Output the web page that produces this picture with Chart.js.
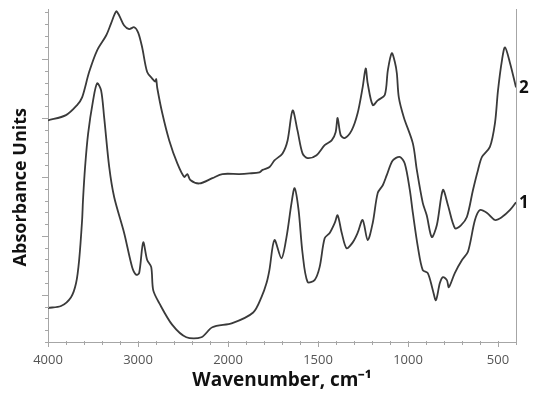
<!DOCTYPE html>
<html>
<head>
<meta charset="utf-8">
<title>IR spectra</title>
<script src="https://cdn.jsdelivr.net/npm/chart.js@4"></script>
<style>
  html, body { margin: 0; padding: 0; background: #fff; }
  canvas { display: block; }
</style>
</head>
<body>
<canvas id="irChart" width="550" height="399"></canvas>
<script>
// spectrum 1 (lower curve)
const wavenumbers1 = [4000, 3855, 3744, 3688, 3654, 3621, 3611, 3588, 3554, 3499, 3454, 3410, 3376, 3320, 3265,
  3154, 3065, 3020, 2987, 2942, 2898, 2853, 2831, 2764, 2619, 2463, 2296, 2174, 1976, 1860, 1814, 1786, 1770,
  1742, 1703, 1675, 1647, 1630, 1608, 1586, 1558, 1519, 1491, 1463, 1435, 1407, 1391, 1368, 1341, 1307, 1280,
  1252, 1224, 1196, 1168, 1140, 1118, 1085, 1046, 1018, 990, 973, 945, 918, 890, 862, 845, 823, 806, 784, 773,
  740, 700, 667, 628, 600, 561, 517, 478, 433, 400];
const absorbance1 = [-0.22, -0.19, -0.04, 0.20, 0.59, 1.27, 1.61, 2.17, 2.74, 3.30, 3.59, 3.47, 3.01, 2.17, 1.66,
  1.05, 0.47, 0.34, 0.37, 0.89, 0.59, 0.47, 0.08, -0.14, -0.51, -0.72, -0.72, -0.55, -0.48, -0.30, -0.04, 0.20, 0.42,
  0.93, 0.62, 0.98, 1.56, 1.81, 1.44, 0.71, 0.22, 0.25, 0.47, 0.96, 1.05, 1.22, 1.35, 1.05, 0.79, 0.89, 1.05,
  1.27, 0.93, 1.22, 1.73, 1.86, 2.03, 2.28, 2.34, 2.23, 1.78, 1.39, 0.81, 0.42, 0.37, 0.08, -0.09, 0.20, 0.30, 0.25, 0.13,
  0.37, 0.59, 0.73, 1.27, 1.44, 1.39, 1.27, 1.32, 1.44, 1.57];

// spectrum 2 (upper curve)
const wavenumbers2 = [4000, 3800, 3677, 3621, 3543, 3454, 3354, 3298, 3242, 3209, 3154, 3098, 3042, 2998, 2954,
  2898, 2842, 2809, 2798, 2786, 2730, 2653, 2563, 2486, 2452, 2419, 2318, 2174, 2062, 1937, 1881, 1825, 1808,
  1769, 1742, 1697, 1669, 1641, 1614, 1586, 1558, 1508, 1463, 1424, 1402, 1391, 1374, 1352, 1313, 1280, 1252,
  1235, 1224, 1196, 1168, 1129, 1112, 1090, 1073, 1062, 1051, 1023, 973, 951, 918, 896, 868, 840, 806, 778, 739,
  706, 673, 639, 611, 589, 545, 517, 500, 478, 461, 433, 400];
const absorbance2 = [2.96, 3.05, 3.22, 3.35, 3.78, 4.15, 4.40, 4.61, 4.81, 4.74, 4.57, 4.51, 4.54, 4.45, 4.20,
  3.78, 3.67, 3.62, 3.66, 3.51, 3.08, 2.62, 2.23, 2.00, 2.05, 1.95, 1.89, 1.98, 2.05, 2.05, 2.06, 2.08, 2.12,
  2.17, 2.28, 2.40, 2.62, 3.13, 2.79, 2.40, 2.32, 2.37, 2.54, 2.62, 2.76, 3.00, 2.71, 2.66, 2.79, 3.08, 3.52,
  3.84, 3.59, 3.22, 3.30, 3.39, 3.81, 4.10, 3.95, 3.76, 3.35, 3.01, 2.57, 2.12, 1.56, 1.35, 0.98, 1.18, 1.78, 1.52, 1.13,
  1.18, 1.32, 1.78, 2.12, 2.34, 2.51, 2.91, 3.47, 3.98, 4.20, 3.93, 3.52];

const seriesLabels = ["1", "2"];
const tickWavenumbers = [4000, 3000, 2000, 1500, 1000, 500];

// the axis changes scale at 2000 cm-1: above it 1000 cm-1 gets the width of 500 below
const toAxis = (w) => (w > 2000 ? 2000 + (w - 2000) / 2 : w);
const fromAxis = (u) => (u > 2000 ? 2000 + (u - 2000) * 2 : u);

const AXIS_COLOR = "#a6a6a6";
const LINE_COLOR = "#3a3a3a";

const toPoints = (ws, ys) => ws.map((w, i) => ({ x: toAxis(w), y: ys[i] }));

// tick marks cross the axis line, majors are longer
const axisMarks = {
  id: "axisMarks",
  afterDraw(chart) {
    const { ctx, chartArea, scales } = chart;
    const x = scales.x;
    const y = scales.y;
    ctx.save();
    ctx.strokeStyle = AXIS_COLOR;
    ctx.lineWidth = 1;
    ctx.beginPath();
    // right frame line
    ctx.moveTo(chartArea.right + 0.5, chartArea.top);
    ctx.lineTo(chartArea.right + 0.5, chartArea.bottom);
    x.ticks.forEach((t) => {
      const px = Math.round(x.getPixelForValue(t.value)) + 0.5;
      const major = t.value % 500 === 0;
      ctx.moveTo(px, chartArea.bottom - 1);
      ctx.lineTo(px, chartArea.bottom + (major ? 5 : 3));
    });
    y.ticks.forEach((t) => {
      const py = Math.round(y.getPixelForValue(t.value)) + 0.5;
      const major = Math.abs(t.value - Math.round(t.value)) < 1e-6;
      ctx.moveTo(chartArea.left + 1, py);
      ctx.lineTo(chartArea.left - (major ? 6 : 3), py);
    });
    ctx.stroke();

    // curve numbers at the right end of each spectrum
    ctx.fillStyle = "#111";
    ctx.font = "bold 17px 'Open Sans', sans-serif";
    ctx.textBaseline = "middle";
    ctx.textAlign = "left";
    chart.data.datasets.forEach((ds) => {
      const last = ds.data[ds.data.length - 1];
      ctx.fillText(ds.label, chartArea.right + 3, y.getPixelForValue(last.y) + 1);
    });
    ctx.restore();
  }
};

const ctx = document.getElementById("irChart").getContext("2d");

const irChart = new Chart(ctx, {
  type: "line",
  data: {
    datasets: [
      {
        label: seriesLabels[0],
        data: toPoints(wavenumbers1, absorbance1),
        borderColor: LINE_COLOR,
        borderWidth: 1.8,
        pointRadius: 0,
        tension: 0.3,
        fill: false
      },
      {
        label: seriesLabels[1],
        data: toPoints(wavenumbers2, absorbance2),
        borderColor: LINE_COLOR,
        borderWidth: 1.8,
        pointRadius: 0,
        tension: 0.3,
        fill: false
      }
    ]
  },
  options: {
    responsive: false,
    animation: false,
    devicePixelRatio: 1,
    layout: { padding: { left: 0, right: 34, top: 9, bottom: 0 } },
    plugins: {
      legend: { display: false },
      tooltip: { enabled: false }
    },
    scales: {
      x: {
        type: "linear",
        reverse: true,
        min: 400,
        max: 3000,
        border: { color: AXIS_COLOR, width: 1 },
        grid: { drawOnChartArea: false, tickLength: 6, tickColor: "transparent" },
        ticks: {
          stepSize: 100,
          autoSkip: false,
          maxRotation: 0,
          padding: 4,
          color: "#555",
          font: { family: "'Open Sans', sans-serif", size: 13 },
          callback: (v) => {
            const w = Math.round(fromAxis(v));
            return tickWavenumbers.includes(w) ? String(w) : "";
          }
        },
        title: {
          display: true,
          text: "Wavenumber, cm\u207B\u00B9",
          color: "#111",
          font: { family: "'Open Sans', sans-serif", size: 19, weight: "bold" },
          padding: { top: 0, bottom: 7 }
        },
        afterFit: (scale) => { scale.height = 57; }
      },
      y: {
        type: "linear",
        min: -0.8,
        max: 4.85,
        border: { color: AXIS_COLOR, width: 1 },
        grid: { drawOnChartArea: false, tickLength: 6, tickColor: "transparent" },
        ticks: { display: false },
        afterBuildTicks: (scale) => {
          const ticks = [];
          for (let i = 0; i <= 28; i++) ticks.push({ value: Math.round((-0.8 + i * 0.2) * 10) / 10 });
          scale.ticks = ticks;
        },
        title: {
          display: true,
          // trailing spaces push the centred title a little below the plot middle, as in the original
          text: "Absorbance Units\u00A0\u00A0\u00A0\u00A0\u00A0",
          color: "#111",
          font: { family: "'Open Sans', sans-serif", size: 18, weight: "bold" },
          padding: { top: 10, bottom: 0 }
        },
        afterFit: (scale) => { scale.width = 48; }
      }
    }
  },
  plugins: [axisMarks]
});
</script>
</body>
</html>
